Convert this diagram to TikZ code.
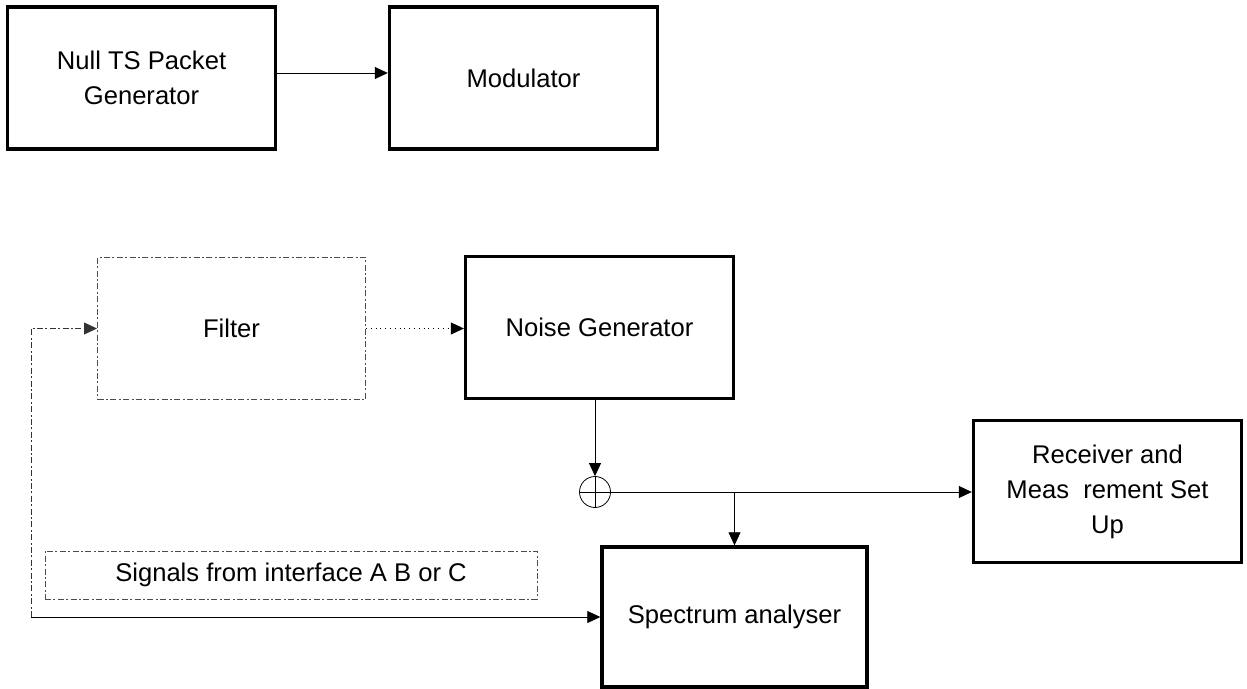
\documentclass[tikz,border=0pt]{standalone}
\usepackage{fontspec}
\setmainfont{Liberation Sans}
\usetikzlibrary{arrows.meta,calc,positioning}
\tikzset{
	-{Triangle[length=6.5pt,width=6pt]},line width=0.5pt,
	block/.style ={rectangle, draw, line width=1.7pt, minimum width=134pt, minimum height=71pt, align=center, font=\fontsize{12.8}{17.5}\selectfont},
	dashblock/.style ={block, line width=0.5pt, draw=black!70, dash pattern=on 3pt off 1.2pt on 1pt off 1.2pt},
	sumnode/.style = {circle, draw, minimum size=15.5pt, inner sep=0pt, path picture={
		\draw[-] (path picture bounding box.north) -- (path picture bounding box.south);
		\draw[-] (path picture bounding box.west) -- (path picture bounding box.east);}},
	fbline/.style={draw=black!80, dash pattern=on 3pt off 1.2pt on 1pt off 1.2pt}
}

\begin{document}
\begin{tikzpicture}[x=0.5pt,y=-0.5pt]
    \useasboundingbox (0,0) rectangle (1247,689);
    \node[block] (ntsp) at (141.5,78) {Null TS Packet\\Generator};
    \node[block] (mod) at (523.5,78) {Modulator};

    \node[dashblock] (filter) at (231.5,328.5) {Filter};
    \node[block] (noise) at (599.5,327.5) {Noise Generator};
    \node[sumnode] (sum) at (595,492) {};
    \node[block] (recv) at (1107.5,491.5) {Receiver and\\Meas\ \ rement Set\\Up};
    \node[block, minimum width=132.5pt, minimum height=70pt] (spec) at (734.5,617) {Spectrum analyser};
    \node[dashblock, minimum width=246pt, minimum height=24pt] (sig) at (291,575) {Signals from interface A B or C};
    \coordinate (fbk) at (31,617);
    \coordinate (br) at (spec.north |- sum);

    \path ([yshift=2.5pt]ntsp.east) edge ([yshift=2.5pt]mod.west);
    \draw[dotted] (filter.east) -- (filter.east -| noise.west);
    \draw (noise.south -| sum) -- (sum);
    \draw (sum.east) -- (sum.east -| recv.west);
    \draw (br) -- (spec.north);
    \draw[fbline] (fbk) |- (filter.west);
    \draw (fbk) -- (spec.west);
\end{tikzpicture}
\end{document}
